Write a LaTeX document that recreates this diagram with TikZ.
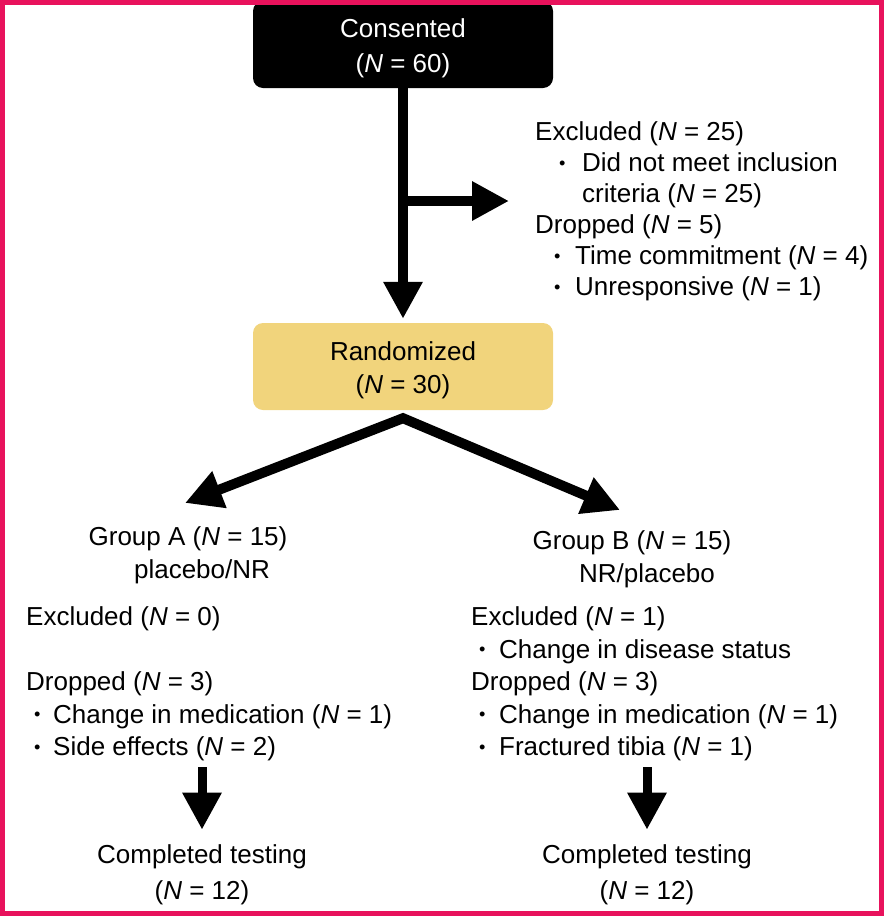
\documentclass[tikz,border=0pt]{standalone}
\usepackage{fontspec}
\setmainfont{Liberation Sans}
\usepackage{xcolor}
\usepackage{tikz}
\usetikzlibrary{arrows.meta,positioning,calc}
\definecolor{framepink}{HTML}{E8125C}
\definecolor{randgold}{HTML}{F1D47C}
\newcommand{\nn}[1]{(\textit{N} = #1)}
\newcommand{\itm}[2]{\hspace*{#1}\makebox[0pt]{\raisebox{2.5pt}{\scalebox{0.7}{\textbullet}}}\hspace*{#2}}
\newcommand{\topstrut}{\rule{0pt}{27pt}}
\tikzset{
  headT/.tip={Triangle[length=37pt, width=37pt]},
  flowbox/.style={rounded corners=10pt, minimum width=300pt, minimum height=87pt, align=center, inner sep=0pt},
  startbox/.style={flowbox, fill=black, text=white, font=\fontsize{26}{35}\selectfont},
  randbox/.style={flowbox, fill=randgold, font=\fontsize{26}{33}\selectfont},
  infotxt/.style={align=left, inner sep=0pt, anchor=west, font=\fontsize{26}{31}\selectfont},
  grp/.style={align=center, inner sep=0pt, font=\fontsize{26}{33}\selectfont},
  arr/.style={-headT, line width=10pt},
}

\begin{document}
\begin{tikzpicture}[x=1pt, y=-1pt]
\useasboundingbox (0,0) rectangle (884,916);
\node[startbox] (consent) at (403,44.5) {\topstrut Consented\\\nn{60}};
\node[randbox] (rand) at (403,366.5) {\topstrut Randomized\\\nn{30}};
\node[infotxt] (excl) at (535,211.5) {Excluded \nn{25}\\
  \itm{27pt}{20pt}Did not meet inclusion\\
  \hspace*{47pt}criteria \nn{25}\\
  Dropped \nn{5}\\
  \itm{22pt}{18pt}Time commitment \nn{4}\\
  \itm{22pt}{18pt}Unresponsive \nn{1}};
\node[grp] (grpA) at (188,555.5) {Group A \nn{15}\\\hspace*{28pt}placebo/NR};
\node[grp] (grpB) at (632,559) {Group B \nn{15}\\\hspace*{30pt}NR/placebo};
\node[infotxt, font=\fontsize{26}{32.5}\selectfont] (lossA) at (26,684) {Excluded \nn{0}\\
  \mbox{}\\
  Dropped \nn{3}\\
  \itm{11pt}{16pt}Change in medication \nn{1}\\
  \itm{11pt}{16pt}Side effects \nn{2}};
\node[infotxt, font=\fontsize{26}{32.5}\selectfont] (lossB) at (471,684) {Excluded \nn{1}\\
  \itm{11pt}{17pt}Change in disease status\\
  Dropped \nn{3}\\
  \itm{11pt}{17pt}Change in medication \nn{1}\\
  \itm{11pt}{17pt}Fractured tibia \nn{1}};
\node[grp, font=\fontsize{26}{36}\selectfont] (doneA) at (202,875) {Completed testing\\\nn{12}};
\node[grp, font=\fontsize{26}{36}\selectfont] (doneB) at (647,875) {Completed testing\\\nn{12}};
% arrows
\coordinate (branch) at (403,201);
\coordinate (split) at ([yshift=-8pt]rand.south);
\coordinate (tipA) at (185,503);
\coordinate (tipB) at (620,510);
\draw[arr, shorten >=4pt] (consent) -- (rand);
\draw[arr, shorten >=26pt] (branch) -- (branch -| excl.west);
\draw[headT-headT, line width=10pt] (tipA) -- (split) -- (tipB);
\draw[arr, line width=9pt, shorten <=6pt, shorten >=15pt] (lossA.south -| doneA) -- (doneA);
\draw[arr, line width=9pt, shorten <=6pt, shorten >=15pt] (lossB.south -| doneB) -- (doneB);
\draw[framepink, line width=5pt] (2.5,2.5) rectangle (881.5,913.5);
\end{tikzpicture}
\end{document}
